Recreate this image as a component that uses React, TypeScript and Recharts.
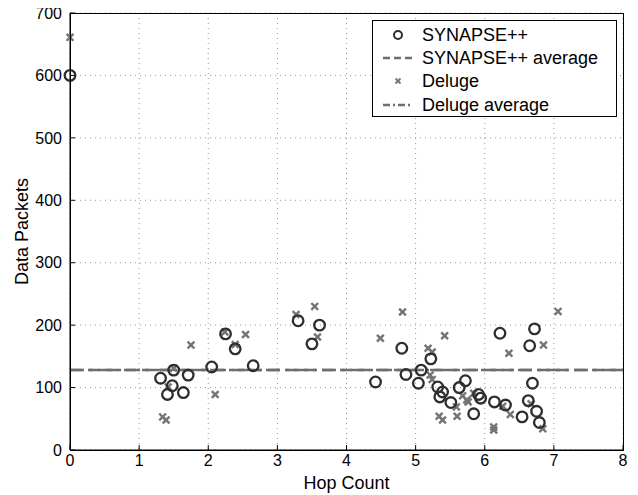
import React from 'react';
import {
  ScatterChart,
  Scatter,
  XAxis,
  YAxis,
  CartesianGrid,
  ReferenceLine,
} from 'recharts';

const synapseX = [0, 1.31, 1.41, 1.48, 1.5, 1.64, 1.71, 2.05, 2.25, 2.39, 2.65, 3.3, 3.5, 3.61, 4.42, 4.8, 4.86, 5.04, 5.08, 5.22, 5.32, 5.35, 5.39, 5.51, 5.63, 5.72, 5.84, 5.91, 5.94, 6.14, 6.22, 6.3, 6.54, 6.63, 6.65, 6.69, 6.72, 6.75, 6.79];
const synapseY = [600, 115, 89, 103, 128, 92, 120, 133, 186, 162, 135, 207, 170, 200, 109, 163, 121, 107, 128, 146, 101, 85, 93, 76, 100, 111, 58, 89, 83, 77, 187, 72, 53, 79, 167, 107, 194, 62, 44];

const delugeX = [0, 1.34, 1.39, 1.42, 1.5, 1.75, 2.1, 2.24, 2.39, 2.54, 3.27, 3.54, 3.58, 4.49, 4.81, 5.18, 5.24, 5.21, 5.24, 5.34, 5.39, 5.42, 5.59, 5.6, 5.68, 5.74, 5.76, 5.84, 6.13, 6.13, 6.26, 6.37, 6.35, 6.67, 6.84, 6.85, 7.06];
const delugeY = [661, 53, 48, 101, 131, 168, 89, 189, 169, 185, 217, 230, 181, 179, 221, 163, 157, 120, 113, 54, 48, 183, 69, 54, 87, 80, 77, 91, 37, 32, 70, 57, 155, 74, 34, 168, 222];

const synapseAverage = 128;
const delugeAverage = 128;

const xTicks = [0, 1, 2, 3, 4, 5, 6, 7, 8];
const yTicks = [0, 100, 200, 300, 400, 500, 600, 700];

const legendLabels = ['SYNAPSE++', 'SYNAPSE++ average', 'Deluge', 'Deluge average'];

const synapseData = synapseX.map((x, i) => ({ x, y: synapseY[i] }));
const delugeData = delugeX.map((x, i) => ({ x, y: delugeY[i] }));

const X_MAX = xTicks[xTicks.length - 1];
const Y_MAX = yTicks[yTicks.length - 1];

const FONT = '"Liberation Sans", Arial, Helvetica, sans-serif';
const CIRCLE_COLOR = '#2e2e2e';
const CROSS_COLOR = '#747474';
const AVG_COLOR = '#6e6e6e';

const CircleShape = (props: any) => {
  const { cx, cy } = props;
  return <circle cx={cx} cy={cy} r={5.3} fill="none" stroke={CIRCLE_COLOR} strokeWidth={2.3} />;
};

const CrossShape = (props: any) => {
  const { cx, cy } = props;
  const s = 3.4;
  return (
    <g stroke={CROSS_COLOR} strokeWidth={2.4}>
      <line x1={cx - s} y1={cy - s} x2={cx + s} y2={cy + s} />
      <line x1={cx - s} y1={cy + s} x2={cx + s} y2={cy - s} />
    </g>
  );
};

const LegendBox = () => {
  const row = (i: number, marker: React.ReactNode) => (
    <div key={i} style={{ display: 'flex', alignItems: 'center', height: 23.3 }}>
      <svg width={44} height={20} style={{ display: 'block' }}>
        {marker}
      </svg>
      <span style={{ fontSize: 18, fontFamily: FONT, color: '#000', marginLeft: 5, whiteSpace: 'nowrap', lineHeight: '20px' }}>
        {legendLabels[i]}
      </span>
    </div>
  );
  return (
    <div
      style={{
        position: 'absolute',
        left: 372,
        top: 20,
        width: 245,
        height: 97,
        border: '1px solid #000',
        background: '#fff',
        boxSizing: 'border-box',
        paddingTop: 2,
      }}
    >
      {row(0, <circle cx={25} cy={10} r={4} fill="none" stroke={CIRCLE_COLOR} strokeWidth={2} />)}
      {row(1, <line x1={10} y1={10} x2={40} y2={10} stroke={AVG_COLOR} strokeWidth={2.5} strokeDasharray="7 4" />)}
      {row(
        2,
        <g stroke={CROSS_COLOR} strokeWidth={1.8}>
          <line x1={22.5} y1={7.5} x2={27.5} y2={12.5} />
          <line x1={22.5} y1={12.5} x2={27.5} y2={7.5} />
        </g>
      )}
      {row(3, <line x1={10} y1={10} x2={40} y2={10} stroke={AVG_COLOR} strokeWidth={2.5} strokeDasharray="7 3 2 3" />)}
    </div>
  );
};

export default function App() {
  return (
    <div style={{ position: 'relative', width: 638, height: 495, marginTop: -8, marginLeft: -8, background: '#fff' }}>
      <ScatterChart width={638} height={495} margin={{ top: 13, right: 15, bottom: 0, left: 8 }}>
        <CartesianGrid stroke="#999" strokeDasharray="1 4" strokeWidth={1} />
        <XAxis
          dataKey="x"
          type="number"
          domain={[0, X_MAX]}
          ticks={xTicks}
          interval={0}
          height={45}
          tickSize={-5}
          tickMargin={10}
          stroke="#000"
          tick={{ fill: '#000', fontSize: 16, fontFamily: FONT }}
          label={{ value: 'Hop Count', position: 'center', dy: 10, fill: '#000', fontSize: 18, fontFamily: FONT }}
        />
        <YAxis
          dataKey="y"
          type="number"
          domain={[0, Y_MAX]}
          ticks={yTicks}
          interval={0}
          width={62}
          tickSize={-5}
          tickMargin={13}
          stroke="#000"
          tick={{ fill: '#000', fontSize: 16, fontFamily: FONT }}
          label={{ value: 'Data Packets', angle: -90, position: 'center', dx: -17, fill: '#000', fontSize: 18, fontFamily: FONT }}
        />
        <ReferenceLine y={synapseAverage} stroke={AVG_COLOR} strokeWidth={2.5} strokeDasharray="12 6" />
        <ReferenceLine y={delugeAverage} stroke={AVG_COLOR} strokeWidth={2.5} strokeDasharray="14 5 4 5" />
        <Scatter name="Deluge" data={delugeData} shape={CrossShape} isAnimationActive={false} />
        <Scatter name="SYNAPSE++" data={synapseData} shape={CircleShape} isAnimationActive={false} />
      </ScatterChart>
      <div
        style={{
          position: 'absolute',
          left: 69.5,
          top: 12.5,
          width: 554,
          height: 438,
          border: '1px solid #000',
          boxSizing: 'border-box',
          pointerEvents: 'none',
        }}
      />
      <LegendBox />
    </div>
  );
}
